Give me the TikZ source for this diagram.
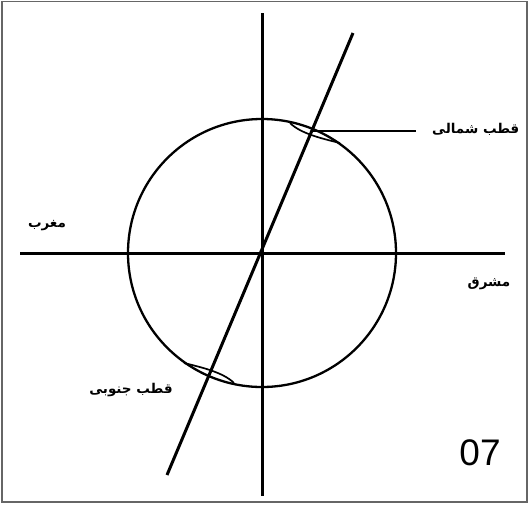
\documentclass[tikz,border=0pt]{standalone}
\usepackage{fontspec}
\newfontfamily\urdufont[Script=Arabic]{DejaVu Sans}
\newfontfamily\digitfont{Liberation Sans}
\TeXXeTstate=1
\tikzset{
  urdu/.style={font=\urdufont\bfseries\fontsize{13.5}{16}\selectfont, inner sep=0pt},
  axis/.style={line width=3pt},
  lens/.style={line width=1.7pt}
}
\begin{document}
\begin{tikzpicture}[x=1pt,y=-1pt]
\useasboundingbox (0,0) rectangle (529,504);
\draw[line width=1.2pt, black!60] (2,1.5) rectangle (527,502);
\coordinate (O) at (262,253);
\draw[axis] (262,13) -- (262,496);
\draw[axis] (20,253) -- (505,253);
\draw[axis] (353,33) -- (167,475);
\draw[line width=2.3pt] (O) circle (134pt);
% polar caps
\draw[lens] (290,123) .. controls (301,134) and (324,139) .. (340,143);
\draw[lens] (234,383) .. controls (223,372) and (200,367) .. (184,363);
% labels
\coordinate (np) at (313,131);
\node[urdu, anchor=west] (north) at (432,129) {\beginR قطب شمالی\endR};
\draw[line width=2pt] (np) -- (416,131);
\node[urdu] (west) at (47,226) {\beginR مغرب\endR};
\node[urdu] (east) at (489,284) {\beginR مشرق\endR};
\node[urdu] (south) at (131,390) {\beginR قطب جنوبی\endR};
\node[font=\digitfont\fontsize{37}{40}\selectfont, inner sep=0pt] (plate) at (480,453) {07};
\end{tikzpicture}
\end{document}
